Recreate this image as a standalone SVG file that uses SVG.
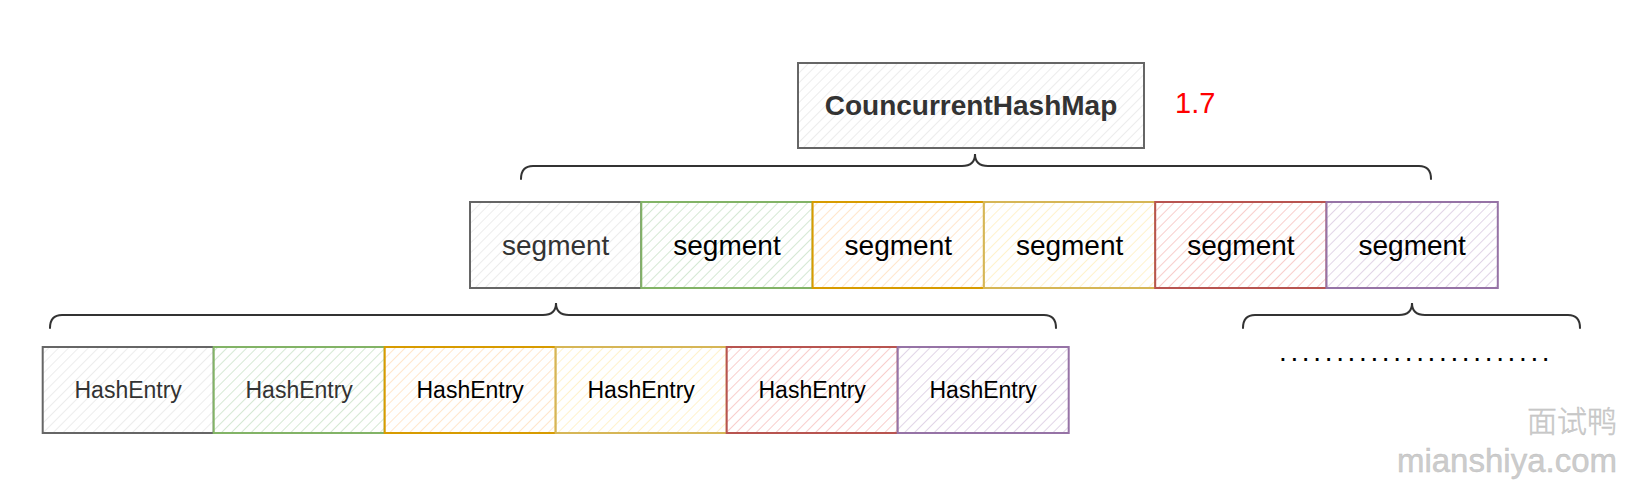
<svg xmlns="http://www.w3.org/2000/svg" width="1651" height="494" viewBox="0 0 1651 494">
<defs>
<pattern id="hGrey" width="7" height="7" patternUnits="userSpaceOnUse" patternTransform="rotate(45)"><rect width="7" height="7" fill="#ffffff"/><line x1="0" y1="0" x2="0" y2="7" stroke="#ececec" stroke-width="2"/></pattern>
<pattern id="hGreen" width="7" height="7" patternUnits="userSpaceOnUse" patternTransform="rotate(45)"><rect width="7" height="7" fill="#ffffff"/><line x1="0" y1="0" x2="0" y2="7" stroke="#d5e8d4" stroke-width="2"/></pattern>
<pattern id="hOrange" width="7" height="7" patternUnits="userSpaceOnUse" patternTransform="rotate(45)"><rect width="7" height="7" fill="#ffffff"/><line x1="0" y1="0" x2="0" y2="7" stroke="#ffe6cc" stroke-width="2"/></pattern>
<pattern id="hYellow" width="7" height="7" patternUnits="userSpaceOnUse" patternTransform="rotate(45)"><rect width="7" height="7" fill="#ffffff"/><line x1="0" y1="0" x2="0" y2="7" stroke="#fff2cc" stroke-width="2"/></pattern>
<pattern id="hRed" width="7" height="7" patternUnits="userSpaceOnUse" patternTransform="rotate(45)"><rect width="7" height="7" fill="#ffffff"/><line x1="0" y1="0" x2="0" y2="7" stroke="#f8cecc" stroke-width="2"/></pattern>
<pattern id="hPurple" width="7" height="7" patternUnits="userSpaceOnUse" patternTransform="rotate(45)"><rect width="7" height="7" fill="#ffffff"/><line x1="0" y1="0" x2="0" y2="7" stroke="#e1d5e7" stroke-width="2"/></pattern>
</defs>
<style>
text{font-family:"Liberation Sans",Arial,"Noto Sans CJK SC",sans-serif;text-anchor:middle}
.box{stroke-width:2}
.grey{fill:url(#hGrey);stroke:#666666}
.green{fill:url(#hGreen);stroke:#82b366}
.orange{fill:url(#hOrange);stroke:#d79b00}
.yellow{fill:url(#hYellow);stroke:#d6b656}
.red{fill:url(#hRed);stroke:#b85450}
.purple{fill:url(#hPurple);stroke:#9673a6}
.seg{font-size:28px;fill:#000}
.he{font-size:23px;fill:#000}
.dim{fill:#333333}
.brace{fill:none;stroke:#333333;stroke-width:2;stroke-linecap:round}
.wm{fill:#cccccc;stroke:#bdbdbd;stroke-width:0.4;text-anchor:end}
</style>

<g id="map">
<rect class="box grey" x="798" y="63" width="346" height="85"/>
<text x="971" y="115" style="font-size:28px;font-weight:bold;fill:#333333">CouncurrentHashMap</text>
</g>
<text id="version" x="1175" y="113" style="font-size:29px;fill:#ff0000;text-anchor:start">1.7</text>

<g id="segment1"><rect class="box grey" x="470" y="202" width="171.3" height="86"/><text class="seg dim" x="555.7" y="255">segment</text></g>
<g id="segment2"><rect class="box green" x="641.3" y="202" width="171.3" height="86"/><text class="seg" x="727" y="255">segment</text></g>
<g id="segment3"><rect class="box orange" x="812.6" y="202" width="171.3" height="86"/><text class="seg" x="898.3" y="255">segment</text></g>
<g id="segment4"><rect class="box yellow" x="983.9" y="202" width="171.3" height="86"/><text class="seg" x="1069.6" y="255">segment</text></g>
<g id="segment5"><rect class="box red" x="1155.2" y="202" width="171.3" height="86"/><text class="seg" x="1240.9" y="255">segment</text></g>
<g id="segment6"><rect class="box purple" x="1326.5" y="202" width="171.3" height="86"/><text class="seg" x="1412.2" y="255">segment</text></g>

<g id="entry1"><rect class="box grey" x="42.7" y="347" width="171" height="86"/><text class="he dim" x="128.2" y="398">HashEntry</text></g>
<g id="entry2"><rect class="box green" x="213.7" y="347" width="171" height="86"/><text class="he dim" x="299.2" y="398">HashEntry</text></g>
<g id="entry3"><rect class="box orange" x="384.7" y="347" width="171" height="86"/><text class="he" x="470.2" y="398">HashEntry</text></g>
<g id="entry4"><rect class="box yellow" x="555.7" y="347" width="171" height="86"/><text class="he" x="641.2" y="398">HashEntry</text></g>
<g id="entry5"><rect class="box red" x="726.7" y="347" width="171" height="86"/><text class="he" x="812.2" y="398">HashEntry</text></g>
<g id="entry6"><rect class="box purple" x="897.7" y="347" width="171" height="86"/><text class="he" x="983.2" y="398">HashEntry</text></g>

<g id="more"><text x="1279" y="361" style="font-size:28px;fill:#000;text-anchor:start;letter-spacing:3.65px">........................</text></g>

<g id="connectors">
<path class="brace" d="M521,179 Q521,166 533,166 L962,166 Q975,166 975,154 Q975,166 988,166 L1419,166 Q1431,166 1431,179"/>
<path class="brace" d="M50,328 Q50,315 62,315 L543,315 Q556,315 556,303 Q556,315 569,315 L1044,315 Q1056,315 1056,328"/>
<path class="brace" d="M1243,328 Q1243,315 1255,315 L1399,315 Q1412,315 1412,303 Q1412,315 1425,315 L1568,315 Q1580,315 1580,328"/>
</g>

<g id="watermark">
<text class="wm" x="1617" y="432" style="font-family:'Noto Sans CJK SC',sans-serif;font-size:30px;font-weight:300">面试鸭</text>
<text class="wm" x="1617" y="472" style="font-size:33px">mianshiya.com</text>
</g>
</svg>
